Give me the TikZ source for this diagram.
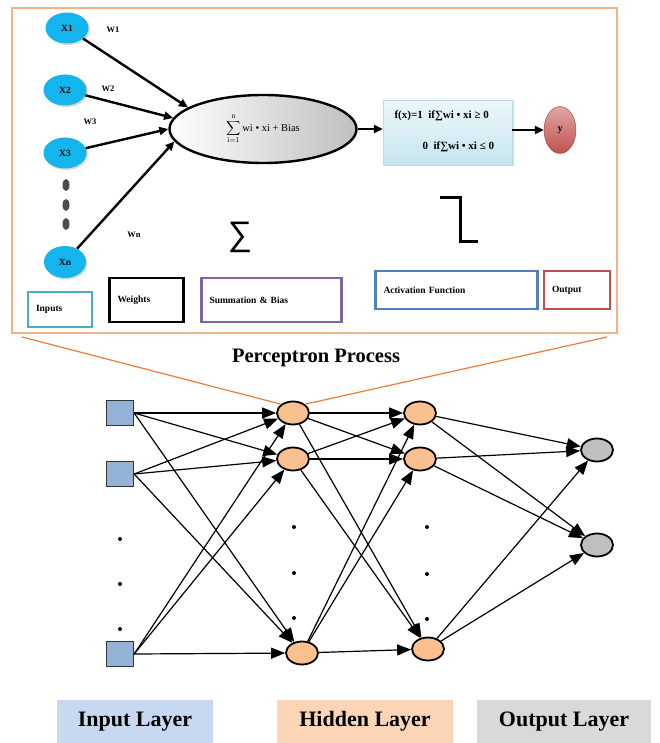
\documentclass[tikz,border=0pt]{standalone}
\usepackage{fontspec}
\setmainfont{Liberation Serif}
\newfontfamily\sigmafont{Liberation Sans}
\usetikzlibrary{arrows.meta,shapes.geometric,shadows,positioning}
\definecolor{framecol}{RGB}{244,177,131}
\definecolor{fancol}{RGB}{237,125,49}
\definecolor{xcol}{RGB}{20,180,236}
\definecolor{actlt}{RGB}{236,247,250}
\definecolor{actdk}{RGB}{198,229,239}
\definecolor{actedge}{RGB}{183,221,232}
\definecolor{ycol}{RGB}{192,80,77}
\definecolor{inpcol}{RGB}{75,172,198}
\definecolor{sumcol}{RGB}{128,100,162}
\definecolor{fncol}{RGB}{79,129,189}
\definecolor{sqcol}{RGB}{149,179,215}
\definecolor{hidcol}{RGB}{250,192,144}
\definecolor{outcol}{RGB}{191,191,191}
\definecolor{inlay}{RGB}{198,217,240}
\definecolor{hidlay}{RGB}{251,213,181}
\definecolor{outlay}{RGB}{217,217,217}
\tikzset{
  % perceptron input
  xnode/.style={ellipse, fill=xcol, minimum width=43pt, minimum height=31pt, inner sep=0pt,
                font=\fontsize{9.5}{10}\selectfont\bfseries,
                drop shadow={shadow xshift=1.5pt, shadow yshift=-1.5pt, opacity=0.3}},
  % dots between the inputs
  vdot/.style={ellipse, fill=black!70, minimum width=7pt, minimum height=12pt, inner sep=0pt},
  % weight labels
  wlabel/.style={font=\fontsize{8.5}{10}\selectfont\bfseries},
  % thick perceptron arrow
  parrow/.style={-{Triangle[length=9pt,width=8pt]}, line width=2.4pt},
  % legend box under the perceptron
  legbox/.style={draw=#1, line width=2.4pt, inner xsep=8pt, align=left,
                 font=\fontsize{9.5}{11}\selectfont\bfseries},
  % network neurons
  sqnode/.style={rectangle, draw=black!80, line width=1.3pt, fill=sqcol,
                 minimum width=27pt, minimum height=25pt},
  hnode/.style={ellipse, draw=black, line width=1.8pt, fill=hidcol,
                minimum width=32pt, minimum height=23pt, inner sep=0pt},
  onode/.style={hnode, fill=outcol},
  netarrow/.style={-{Triangle[length=14pt,width=11pt]}, line width=1.2pt},
  ddot/.style={circle, fill=black, inner sep=0pt, minimum size=4pt},
  % layer captions
  laybox/.style={fill=#1, minimum height=43pt, font=\fontsize{22}{24}\selectfont\bfseries},
  % activation formula lines
  fline/.style={anchor=west, font=\fontsize{11}{12}\selectfont\bfseries},
}

\begin{document}
\begin{tikzpicture}[x=1pt, y=-1pt]
  \useasboundingbox (0,0) rectangle (659,743);

  % perceptron frame
  \draw[framecol, line width=2.5pt] (12,8) rectangle (617,333);

  % inputs and weights
  \node[xnode] (x1) at (67,28) {X1};
  \node[xnode] (x2) at (65,90) {X2};
  \node[xnode] (x3) at (65,153) {X3};
  \node[xnode, minimum width=42pt, minimum height=32pt] (xn) at (65,262) {Xn};
  \foreach \y [count=\k] in {185,205,224}
    \node[vdot] (vd\k) at (66,\y) {};
  \node[wlabel] (w1) at (113,30) {W1};
  \node[wlabel] (w2) at (108,89) {W2};
  \node[wlabel] (w3) at (90,122) {W3};
  \node[wlabel] (wn) at (134,235) {Wn};

  % summation
  \node[ellipse, draw, line width=2.4pt, left color=white, right color=black!25,
        minimum width=187pt, minimum height=68pt, inner sep=0pt,
        font=\fontsize{10.5}{11}\selectfont] (sum) at (263,129)
    {\(\displaystyle\sum_{\mathrm{i=1}}^{\mathrm{n}}\)\,wi • xi + Bias};
  \draw[parrow] (x1) -- (sum.164);
  \draw[parrow] (x2) -- (sum.173);
  \draw[parrow] (x3) -- (sum.180);
  \draw[parrow] (xn) -- (sum.188);

  % activation and output
  \node[rectangle, draw=actedge, top color=actlt, bottom color=actdk,
        minimum width=129pt, minimum height=65pt,
        drop shadow={shadow xshift=1.5pt, shadow yshift=-1.5pt, opacity=0.3}] (act) at (447.5,132.5) {};
  \node[fline] (fline1) at (391,116) {f(x)=1\ \ if∑wi • xi ≥ 0};
  \node[fline] (fline2) at (419,147) {0\ \ if∑wi • xi ≤ 0};
  \node[ellipse, draw=ycol!80!black, top color=ycol!50!white, bottom color=ycol,
        minimum width=32pt, minimum height=47pt, inner sep=0pt,
        font=\fontsize{10}{11}\selectfont\bfseries] (yout) at (560,130) {y};
  \draw[parrow] (sum.east) -- (sum.east -| act.west);
  \draw[parrow] (act.east |- yout) -- (yout);

  % symbols
  \node[font=\sigmafont\fontsize{34}{34}\selectfont] (sigsym) at (240,237) {∑};
  \draw[line width=3pt] (440,198) -- (460,198) -- (460,241) -- (478,241);

  % legend
  \node[legbox=inpcol, text width=48pt, minimum height=35pt] (leginp) at (60,309.5) {Inputs};
  \node[legbox=black, text width=58pt, minimum height=44pt] (legw) at (146.5,300) {Weights};
  \node[legbox=sumcol, text width=124pt, minimum height=44pt] (legsum) at (271.5,300) {Summation \& Bias};
  \node[legbox=fncol, text width=146pt, minimum height=38pt] (legact) at (456.5,290) {Activation Function};
  \node[legbox=ycol, text width=50pt, minimum height=38pt] (legout) at (577,290) {Output};

  \node[font=\fontsize{20.5}{22}\selectfont\bfseries] (ptitle) at (316,358) {Perceptron Process};

  % network
  \node[sqnode] (in1) at (120,413) {};
  \node[sqnode] (in2) at (120,474) {};
  \node[sqnode] (in3) at (120,654) {};
  \node[hnode] (ha1) at (293,413) {};
  \node[hnode] (ha2) at (293,459) {};
  \node[hnode] (ha3) at (302,653) {};
  \node[hnode] (hb1) at (420,413) {};
  \node[hnode] (hb2) at (420,459) {};
  \node[hnode] (hb3) at (428,649) {};
  \node[onode] (out1) at (597,450) {};
  \node[onode] (out2) at (597,545) {};

  \foreach \y [count=\k] in {539,584,629}
    \node[ddot] (di\k) at (120,\y) {};
  \foreach \y [count=\k] in {527,573,618}
    \node[ddot] (da\k) at (294,\y) {};
  \foreach \y [count=\k] in {527,574,619}
    \node[ddot] (db\k) at (427,\y) {};

  \foreach \a in {1,2,3}
    \foreach \b in {1,2,3} {
      \draw[netarrow] (in\a.east) -- (ha\b);
      \draw[netarrow] (ha\a) -- (hb\b);
    }
  \foreach \a in {1,2,3}
    \foreach \b in {1,2}
      \draw[netarrow] (hb\a) -- (out\b);

  % zoom lines from the frame
  \coordinate (fanl) at (22,337);
  \coordinate (fanr) at (607,337);
  \draw[fancol, line width=1.2pt] (fanl) -- (ha1.north west);
  \draw[fancol, line width=1.2pt] (fanr) -- (ha1.north east);

  % layer captions
  \node[laybox=inlay, minimum width=156pt] (linp) at (135,721.5) {Input Layer};
  \node[laybox=hidlay, minimum width=176pt] (lhid) at (365,721.5) {Hidden Layer};
  \node[laybox=outlay, minimum width=174pt] (lout) at (564,721.5) {Output Layer};
\end{tikzpicture}
\end{document}
